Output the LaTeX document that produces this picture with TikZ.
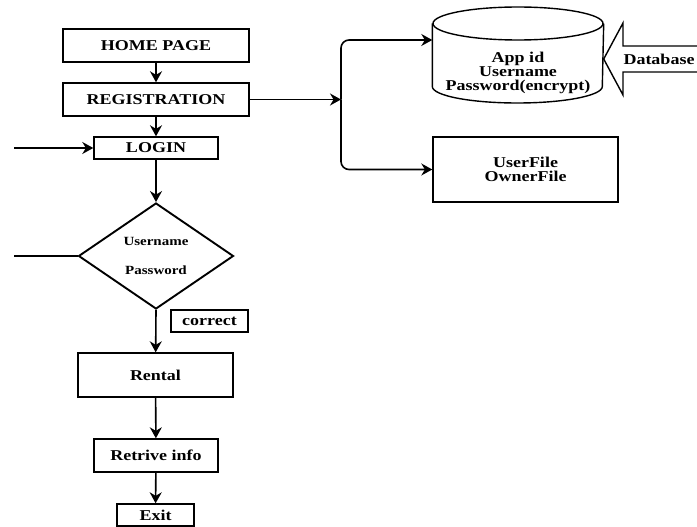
\documentclass[tikz,border=0pt]{standalone}
\usepackage{fontspec}
\setmainfont{Liberation Serif}[FakeStretch=1.2]
\usepackage{tikz}
\usetikzlibrary{arrows.meta,shapes.geometric,calc}
\tikzset{
  box/.style={draw,line width=1.4pt,rectangle,inner sep=0pt,align=center,font=\fontsize{15pt}{14pt}\selectfont\bfseries},
  decision/.style={draw,diamond,line width=1.9pt,inner sep=0pt,align=center,font=\fontsize{12.5pt}{14pt}\selectfont\bfseries},
  flow/.style={line width=1.6pt,-{Stealth[length=11pt,width=12pt]}},
}

\begin{document}
\begin{tikzpicture}[x=1pt,y=-1pt]
\useasboundingbox (0,0) rectangle (697,527);
\node[box,minimum width=186pt,minimum height=33pt] (home) at (156,45.5) {HOME PAGE};
\node[box,minimum width=186pt,minimum height=33pt] (reg) at (156,99.5) {REGISTRATION};
\node[box,minimum width=124pt,minimum height=22pt] (login) at (156,148) {LOGIN};
\node[decision,minimum width=155pt,minimum height=106pt] (check) at (156,256) {Username\\[15pt]Password};
\node[box,minimum width=77pt,minimum height=22pt] (ok) at (209.5,321) {correct};
\node[box,minimum width=155pt,minimum height=44pt] (rental) at (155.5,375) {Rental};
\node[box,minimum width=124pt,minimum height=33pt] (info) at (156,455.5) {Retrive info};
\node[box,minimum width=77pt,minimum height=22pt] (exit) at (155.5,515) {Exit};
\node[box,draw=none,minimum width=170pt] (db) at (518,72.5) {App id\\Username\\Password(encrypt)};
\node[box,minimum width=185pt,minimum height=65pt] (files) at (525.5,169.5) {UserFile\\OwnerFile};
\node[box,draw=none] (dblabel) at (659,59) {Database};
\coordinate (in1) at (14,148);
\coordinate (in2) at (14,256);
\coordinate (split) at (341,99.5);
\coordinate (tip) at ([yshift=13.5pt]db.east);

\draw[flow] (home) -- (reg);
\draw[flow] (reg) -- (login);
\draw[flow] (login) -- (check.north);
\draw[flow] (check.south) -- (rental);
\draw[flow] (rental) -- (info);
\draw[flow] (info) -- (exit);
\draw[flow] (in1) -- (login);
\draw[line width=1.4pt] (in2) -- (check.west);
\draw[flow] (reg) -- (split);
\draw[flow,rounded corners=8pt] (split) |- ([yshift=32.5pt]db.west);
\draw[flow,rounded corners=8pt] (split) |- (files.west);

\draw[line width=1.4pt] ([yshift=49pt]db.center) ellipse [x radius=85pt,y radius=16.5pt];
\draw[line width=1.4pt] ([yshift=49pt]db.west) -- ([yshift=-14pt]db.west)
  arc[start angle=180,end angle=360,x radius=85pt,y radius=16.5pt] -- ([yshift=49pt]db.east);
\draw[line width=1.4pt] (697,46) -- (623,46) -- (623,23) -- (tip) -- (623,95) -- (623,72) -- (697,72);
\end{tikzpicture}
\end{document}
